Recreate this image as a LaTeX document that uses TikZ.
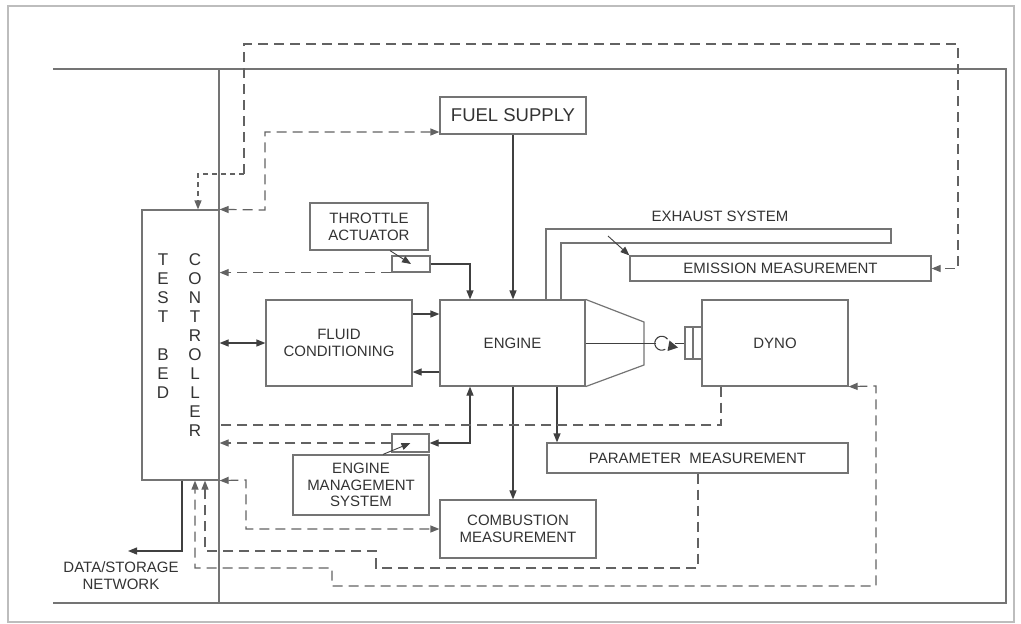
\documentclass[tikz,border=0pt]{standalone}
\usepackage{fontspec}
\setmainfont{Liberation Sans}
\usetikzlibrary{arrows.meta,calc}
\definecolor{boxc}{HTML}{747474}
\definecolor{linec}{HTML}{404040}
\definecolor{dashc}{HTML}{626262}
\definecolor{txtc}{HTML}{333333}
\definecolor{framec}{HTML}{BDBDBD}
\newcommand\lblfont{\fontsize{15}{16.8}\selectfont}
\newcommand\bigfont{\fontsize{18.5}{20}\selectfont}
\newcommand\ctrlfont{\fontsize{17}{19}\selectfont}
\begin{document}
\begin{tikzpicture}[x=1pt,y=-1pt,
  box/.style={draw=boxc,line width=1.2pt,inner sep=0pt,align=center,font=\lblfont,text=txtc},
  lbl/.style={inner sep=0pt,align=center,font=\lblfont,text=txtc},
  sline/.style={draw=linec,line width=1.2pt},
  ar/.style={sline,-{Triangle[length=9pt,width=7pt]}},
  arS/.style={draw=linec,line width=0.9pt,-{Triangle[length=9pt,width=7pt]}},
  arboth/.style={sline,{Triangle[length=9pt,width=7pt]}-{Triangle[length=9pt,width=7pt]}},
  dline/.style={draw=dashc,line width=1.2pt,dash pattern=on 10pt off 6pt},
  dfine/.style={draw=dashc,line width=1.2pt,dash pattern=on 5pt off 4pt},
  dar/.style={dline,-{Triangle[length=9pt,width=7pt]}},
  darboth/.style={dline,{Triangle[length=9pt,width=7pt]}-{Triangle[length=9pt,width=7pt]}},
  frame/.style={draw=boxc,line width=1.2pt}
]
\useasboundingbox (0,0) rectangle (1021,624);
\draw[draw=framec,line width=1.6pt] (8,6) rectangle (1014,622);

% main frame lines
\draw[frame] (53,69) -- (1006,69) -- (1006,603) -- (53,603);
\draw[frame] (219,69) -- (219,603);

% nodes
\node[box,minimum width=77pt,minimum height=270pt] (ctrl) at (180.5,345) {};
\node[lbl,font=\ctrlfont] (ctrlA) at (163,326.5) {T\\E\\S\\T\\\mbox{}\\B\\E\\D};
\node[lbl,font=\ctrlfont] (ctrlB) at (195,345.5) {C\\O\\N\\T\\R\\O\\L\\L\\E\\R};

\node[box,font=\bigfont,minimum width=146pt,minimum height=37pt] (fuel) at (513,115.5) {FUEL SUPPLY};
\node[box,minimum width=118pt,minimum height=47pt] (throttle) at (369,226.5) {THROTTLE\\ACTUATOR};
\node[box,minimum width=38pt,minimum height=16pt] (tact) at (411,264) {};
\node[box,minimum width=146pt,minimum height=86pt] (fluid) at (339,343) {FLUID\\CONDITIONING};
\node[box,minimum width=145pt,minimum height=86pt] (engine) at (512.5,343) {ENGINE};
\node[box,minimum width=146pt,minimum height=86pt] (dyno) at (775,343) {DYNO};
\node[box,minimum width=17pt,minimum height=32pt] (coup) at (693.5,343) {};
\node[box,minimum width=301pt,minimum height=25pt] (emission) at (780.5,268.5) {EMISSION MEASUREMENT};
\node[box,minimum width=301pt,minimum height=30pt] (param) at (697.5,458) {PARAMETER\ \ MEASUREMENT};
\node[box,minimum width=37pt,minimum height=18pt] (emss) at (410.5,443) {};
\node[box,minimum width=136pt,minimum height=60pt] (ems) at (361,485) {ENGINE\\MANAGEMENT\\SYSTEM};
\node[box,minimum width=156pt,minimum height=58pt] (comb) at (518,529) {COMBUSTION\\MEASUREMENT};
\node[lbl] (exh) at (720,216) {EXHAUST SYSTEM};
\node[lbl] (net) at (121,575.5) {DATA/STORAGE\\NETWORK};

% coupling inner line
\draw[frame] (693,327) -- (693,359);

% exhaust pipe
\draw[sline,draw=boxc] (engine.north -| 546,0) -- (546,229) -- (891,229) -- (891,243) -- (561,243) -- (engine.north -| 561,0);
\draw[arS] (608,236) -- (emission.north west);

% engine cone and shaft
\draw[sline,draw=boxc] (engine.north east) -- (644,322) -- (644,365) -- (engine.south east);
\draw[draw=linec,line width=1pt] (engine.east) -- (655.5,343);
\draw[draw=linec,line width=1pt] (675,343) -- (coup.west);
\draw[draw=linec,line width=1.1pt] (667.5,339.2) arc[start angle=-35,end angle=-300,radius=7];
\fill[linec] (678,347.5) -- (669.5,340.5) -- (667.5,351) -- cycle;

% solid connectors
\draw[ar] (fuel.south) -- (fuel.south |- engine.north);
\draw[arS] (throttle.south -| 390,0) -- (tact.center);
\draw[ar] (tact.east) -| (engine.north -| 470,0);
\draw[arboth] (ctrl.east |- fluid.west) -- (fluid.west);
\draw[ar] (fluid.east |- 0,314) -- (engine.west |- 0,314);
\draw[ar] (engine.west |- 0,372) -- (fluid.east |- 0,372);
\draw[arboth] (emss.east) -| (engine.south -| 470,0);
\draw[arS] (ems.north -| 383,0) -- (emss.center);
\draw[ar] (engine.south -| 513,0) -- (comb.north -| 513,0);
\draw[ar] (engine.south -| 557,0) -- (param.north -| 557,0);
\coordinate (netend) at (128,551);
\draw[ar] (ctrl.south -| 182,0) |- (netend);

% dashed connectors
\draw[darboth] (fuel.west |- 0,132) -| (265,210) -- (ctrl.north east);
\draw[dline,-{Triangle[length=9pt,width=7pt]}] (244,174) -- (244,44) -- (958,44) -- (958,268.5) -- (emission.east);
\draw[dfine,-{Triangle[length=9pt,width=7pt]}] (244,174) -- (198,174) -- (ctrl.north -| 198,0);
\draw[dar] (tact.south west) -- (ctrl.east |- tact.south);
\draw[dar] (emss.west) -- (ctrl.east |- emss.west);
\draw[dline] (dyno.south -| 721,0) |- (ctrl.east |- 0,425);
\draw[darboth] (ctrl.south east) -- (246,480) -- (246,529) -- (comb.west |- 0,529);
\draw[dar] (param.south -| 698,0) -- (698,568) -- (376,568) -- (376,551) -- (205,551) -- (ctrl.south -| 205,0);
\draw[darboth] (dyno.south east) -- (876,386) -- (876,586) -- (332,586) -- (332,568) -- (195,568) -- (ctrl.south -| 195,0);
\end{tikzpicture}
\end{document}
